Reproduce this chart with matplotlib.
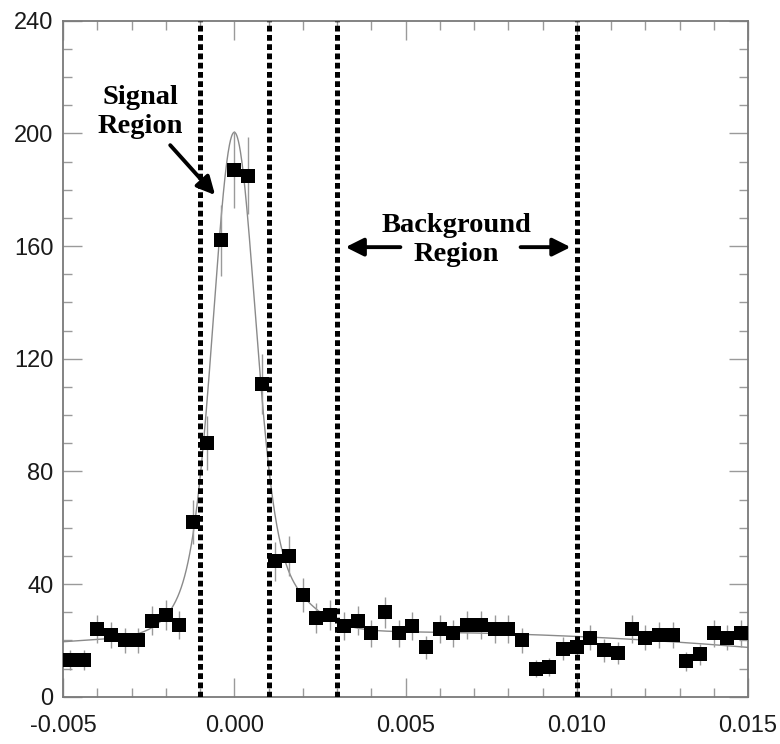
import numpy as np
import matplotlib
matplotlib.use("Agg")
import matplotlib.pyplot as plt
from matplotlib.ticker import MultipleLocator, FormatStrFormatter

# Binned event counts (bin width 0.0004)
bin_centers = [-0.0048, -0.0044, -0.0040, -0.0036, -0.0032, -0.0028, -0.0024, -0.0020,
               -0.0016, -0.0012, -0.0008, -0.0004, 0.0000, 0.0004, 0.0008, 0.0012,
               0.0016, 0.0020, 0.0024, 0.0028, 0.0032, 0.0036, 0.0040, 0.0044,
               0.0048, 0.0052, 0.0056, 0.0060, 0.0064, 0.0068, 0.0072, 0.0076,
               0.0080, 0.0084, 0.0088, 0.0092, 0.0096, 0.0100, 0.0104, 0.0108,
               0.0112, 0.0116, 0.0120, 0.0124, 0.0128, 0.0132, 0.0136, 0.0140,
               0.0144, 0.0148]
counts = [13, 13, 24, 22, 20, 20, 27, 29, 25.5, 62, 90, 162, 187, 185, 111, 48,
          50, 36, 28, 29, 25, 27, 22.5, 30, 22.5, 25, 17.5, 24, 22.5, 25.5, 25.5, 24,
          24, 20, 10, 10.5, 17, 17.5, 21, 16.5, 15.5, 24, 21, 22, 22, 12.5,
          15, 22.5, 21, 22.5]

# Fit parameters: narrow Gaussian core + asymmetric broad component + quadratic background
core_amp, core_sigma = 143.0, 0.00058
wide_amp, wide_sigma_left, wide_sigma_right = 35.0, 0.0011, 0.0014
bg_c0, bg_c1, bg_c2 = 22.375, 3.5, -4.5   # background in units of u = x / 0.01

# Region boundaries
signal_edges = [-0.001, 0.001]
background_edges = [0.003, 0.010]

x = np.asarray(bin_centers)
y = np.asarray(counts)
yerr = np.sqrt(y)  # Poisson uncertainty


def fit_curve(xx):
    u = xx / 0.01
    bg = bg_c0 + bg_c1 * u + bg_c2 * u ** 2
    core = core_amp * np.exp(-0.5 * (xx / core_sigma) ** 2)
    sig = np.where(xx < 0, wide_sigma_left, wide_sigma_right)
    wide = wide_amp * np.exp(-0.5 * (xx / sig) ** 2)
    return bg + core + wide


fig = plt.figure(figsize=(7.8, 7.44), dpi=100)
ax = fig.add_axes([0.0808, 0.0636, 0.8782, 0.9086])

xf = np.linspace(-0.005, 0.015, 2001)
ax.plot(xf, fit_curve(xf), color="#8a8a8a", lw=1.0, zorder=2)

ax.errorbar(x, y, yerr=yerr, fmt="s", color="black", ms=10, mew=0,
            ecolor="#9a9a9a", elinewidth=1.0, capsize=0, zorder=3)

for xv in signal_edges + background_edges:
    ax.axvline(xv, color="black", lw=3.6, linestyle=(0, (1.15, 0.7)),
               dash_capstyle="butt", zorder=4)

ax.set_xlim(-0.005, 0.015)
ax.set_ylim(0, 240)
ax.xaxis.set_major_locator(MultipleLocator(0.005))
ax.xaxis.set_minor_locator(MultipleLocator(0.001))
ax.yaxis.set_major_locator(MultipleLocator(40))
ax.yaxis.set_minor_locator(MultipleLocator(10))
ax.xaxis.set_major_formatter(FormatStrFormatter("%.3f"))
ax.yaxis.set_major_formatter(FormatStrFormatter("%d"))

for s in ax.spines.values():
    s.set_color("#7a7a7a")
    s.set_linewidth(1.3)

ax.tick_params(which="both", direction="in", top=True, right=True,
               color="#9a9a9a", width=1.0)
ax.tick_params(which="major", length=14)
ax.tick_params(which="minor", length=6.5)
ax.tick_params(axis="x", which="major", pad=13)
ax.tick_params(axis="y", which="major", pad=7)
for lab in ax.get_xticklabels() + ax.get_yticklabels():
    lab.set_fontfamily("Liberation Sans")
    lab.set_fontsize(17)
    lab.set_color("#1a1a1a")

serif = dict(family="Liberation Serif", fontweight="bold", fontsize=20.5,
             color="black", ha="center", va="center", linespacing=1.2)
ax.text(-0.00275, 207.5, "Signal\nRegion", **serif)
ax.text(0.00649, 162.0, "Background\nRegion", **serif)

arrow = dict(arrowstyle="-|>", color="black", lw=2.8, mutation_scale=27,
             shrinkA=0, shrinkB=0)
ax.annotate("", xy=(-0.00056, 178.1), xytext=(-0.00187, 195.8), arrowprops=arrow)
ax.annotate("", xy=(0.00325, 159.6), xytext=(0.00485, 159.6), arrowprops=arrow)
ax.annotate("", xy=(0.00982, 159.6), xytext=(0.00836, 159.6), arrowprops=arrow)

fig.savefig("out.png", dpi=100)
